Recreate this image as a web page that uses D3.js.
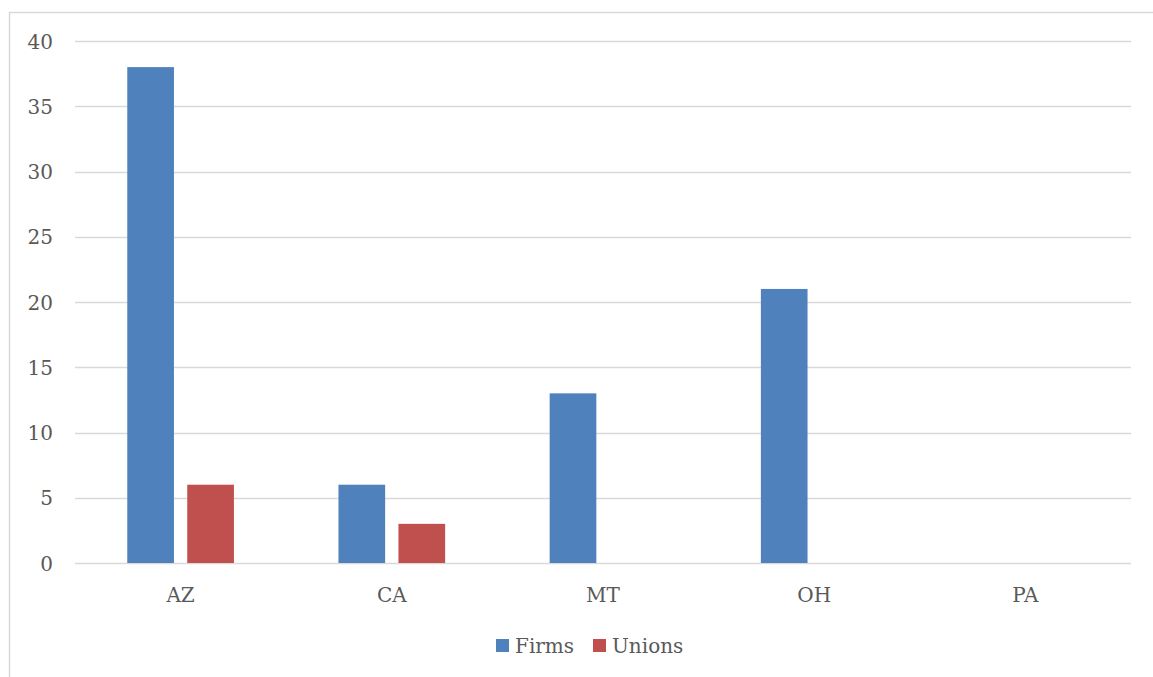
<!DOCTYPE html>
<html><head><meta charset="utf-8">
<script src="https://cdn.jsdelivr.net/npm/d3@7"></script>
<style>
html,body{margin:0;padding:0;background:#fff;}
svg{display:block;}
text{font-family:"DejaVu Serif",serif;fill:#595959;}
</style></head>
<body><svg id="c" width="1153" height="677"></svg>
<script>
const categories = ["AZ","CA","MT","OH","PA"];
const seriesNames = ["Firms","Unions"];
const firms = [38,6,13,21,0];
const unions = [6,3,0,0,0];
const yTicks = [0,5,10,15,20,25,30,35,40];
const colors = ["#4F81BD","#C0504D"];

const svg = d3.select("#c");
const W = 1153, H = 677;
const L = 75, R = 1131, T = 41, B = 563;
const FS = 20;

svg.append("rect").attr("x",9.5).attr("y",12.5).attr("width",W).attr("height",H)
  .attr("fill","#fff").attr("stroke","#d9d9d9").attr("stroke-width",1.5);

const x = d3.scaleBand().domain(categories).range([L,R]).paddingInner(0).paddingOuter(0);
const y = d3.scaleLinear().domain([0,40]).range([B,T]);

const groupW = x.bandwidth()*0.505;
const x1 = d3.scaleBand().domain(seriesNames).range([0,groupW]).paddingInner(0.222).paddingOuter(0);

// grid
svg.append("g").selectAll("line").data(yTicks).join("line")
  .attr("x1",L).attr("x2",R).attr("y1",d=>Math.round(y(d))+0.5).attr("y2",d=>Math.round(y(d))+0.5)
  .attr("stroke","#d9d9d9").attr("stroke-width",1.5);

// y tick labels
const yAxis = d3.axisLeft(y).tickValues(yTicks).tickSize(0).tickPadding(0);
const ga = svg.append("g").attr("transform",`translate(53,0)`).call(yAxis);
ga.select(".domain").remove();
ga.selectAll("text").attr("font-size",FS).attr("fill","#595959").attr("font-family","DejaVu Serif").attr("dy","0.36em");

// x labels
const xAxis = d3.axisBottom(x).tickSize(0).tickPadding(0);
const gx = svg.append("g").attr("transform",`translate(0,${B+25})`).call(xAxis);
gx.select(".domain").remove();
gx.selectAll("text").attr("font-size",FS).attr("fill","#595959").attr("font-family","DejaVu Serif");

// bars
const data = categories.map((c,i)=>({c, vals:[{s:"Firms",v:firms[i]},{s:"Unions",v:unions[i]}]}));
const g = svg.append("g").selectAll("g").data(data).join("g")
  .attr("transform",d=>`translate(${x(d.c)+(x.bandwidth()-groupW)/2},0)`);
g.selectAll("rect").data(d=>d.vals.filter(v=>v.v>0)).join("rect")
  .attr("x",d=>x1(d.s)).attr("width",x1.bandwidth())
  .attr("y",d=>y(d.v)).attr("height",d=>y(0)-y(d.v))
  .attr("fill",(d)=>colors[seriesNames.indexOf(d.s)]);

// legend
const leg = svg.append("g");
const legX = [496, 593];
seriesNames.forEach((s,i)=>{
  leg.append("rect").attr("x",legX[i]).attr("y",639).attr("width",13).attr("height",13).attr("fill",colors[i]);
  leg.append("text").attr("x",legX[i]+19).attr("y",653).attr("font-size",FS).text(s);
});
</script></body></html>
